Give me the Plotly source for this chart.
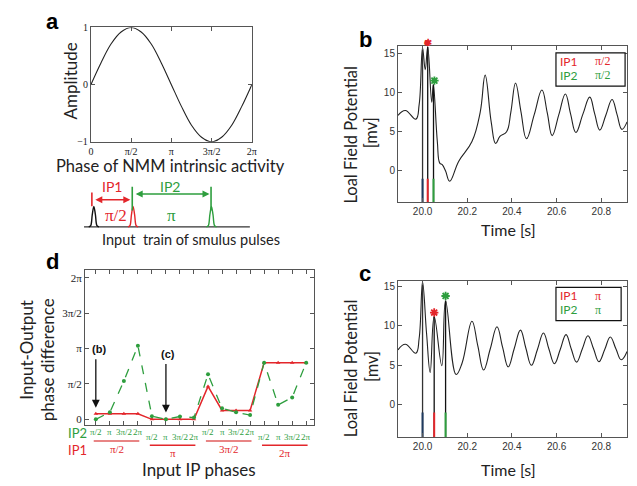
import numpy as np
import plotly.graph_objects as go

W, H = 637, 486
def px(X): return X / W
def py(Y): return 1 - Y / H

RED = '#e3262b'
GREEN = '#2e9e3e'
SALMON = '#e88585'
FRAME = '#555555'
TITLE_FONT = 'Lato'
SERIF = 'Liberation Serif'
SANS = 'Liberation Sans'

# ---------------- Panel a data ----------------
sine_phase_eighths = [0, 1, 2, 3, 4, 5, 6, 7, 8, 9, 10, 11, 12, 13, 14, 15, 16]   # units of pi/8
sine_amplitude = [0, 0.38, 0.71, 0.92, 1, 0.92, 0.71, 0.38, 0, -0.38, -0.71, -0.92, -1, -0.92, -0.71, -0.38, 0]
phase_tick_vals = [0, np.pi / 2, np.pi, 3 * np.pi / 2, 2 * np.pi]
phase_tick_text = ['0', 'π/2', 'π', '3π/2', '2π']

# pulse train (units of pi/2)
pulse_positions = [0, 1, 3]
pulse_colors = ['#111111', RED, GREEN]
pulse_dx = [-0.13, -0.08, -0.04, 0, 0.04, 0.08, 0.13]
pulse_dy = [0, 0.06, 0.6, 1, 0.6, 0.06, 0]

# ---------------- Panel b data ----------------
t_b = [19.89, 19.923, 19.97, 19.985, 20.0, 20.012, 20.023, 20.041, 20.048, 20.066, 20.077,
       20.088, 20.103, 20.121, 20.162, 20.221, 20.258, 20.28, 20.307, 20.327, 20.346, 20.376,
       20.395, 20.416, 20.44, 20.465, 20.5, 20.534, 20.558, 20.58, 20.61, 20.639, 20.662, 20.686,
       20.717, 20.748, 20.77, 20.793, 20.82, 20.848, 20.87, 20.892, 20.915]
lfp_b = [7.08, 7.7, 6.6, 8.5, 15.6, 12.9, 15.8, 8.75, 11.0, 3.75, 1.0,
         0.8, 0.0, -1.3, 1.25, 3.75, 7.5, 12.2, 6.25, 3.5, 4.4, 5.0,
         7.5, 11.2, 7.6, 4.1, 7.2, 10.3, 7.4, 4.5, 7.2, 9.8, 7.3, 4.9,
         7.2, 9.4, 7.3, 5.2, 7.1, 9.1, 7.2, 5.3, 6.25]
pulses_b_t = [20.0, 20.023, 20.049]
pulses_b_peak = [15.6, 15.8, 11.0]
stars_b = [(20.023, 16.4, RED), (20.053, 11.5, GREEN)]

# ---------------- Panel c data ----------------
t_c = [19.89, 19.923, 19.97, 19.985, 20.0, 20.018, 20.034, 20.052, 20.086, 20.103, 20.15,
       20.177, 20.221, 20.247, 20.273, 20.303, 20.333, 20.358, 20.383, 20.41, 20.438, 20.462,
       20.487, 20.514, 20.541, 20.565, 20.59, 20.616, 20.642, 20.665, 20.689, 20.715,
       20.74, 20.765, 20.789, 20.815, 20.84, 20.865, 20.889, 20.915]
lfp_c = [6.96, 7.67, 6.54, 8.5, 15.5, 9.0, 4.1, 11.2, 4.96, 13.2, 3.83,
         5.3, 10.6, 7.5, 4.4, 7.1, 9.9, 7.3, 4.8, 7.1, 9.46, 7.2,
         5.0, 7.0, 9.1, 7.1, 5.2, 7.0, 8.9, 7.1, 5.4, 7.1,
         8.75, 7.1, 5.46, 7.0, 8.6, 7.1, 5.7, 6.75]
pulses_c_t = [20.0, 20.052, 20.103]
pulses_c_peak = [15.5, 11.2, 13.2]
stars_c = [(20.052, 11.7, RED), (20.103, 13.8, GREEN)]
stub_colors = ['#1f3a5f', RED, GREEN]

time_ticks = [20.0, 20.2, 20.4, 20.6, 20.8]
lfp_ticks = [0, 5, 10, 15]

# ---------------- Panel d data (units of pi/2) ----------------
d_index = list(range(16))
ip1_diff = [0.16, 0.16, 0.16, 0.16, 0, 0, 0, 0, 0.93, 0.25, 0.25, 0.25, 1.6, 1.6, 1.6, 1.6]
ip2_diff = [0, 0.2, 1.08, 2.08, 0.09, 0, 0.08, 0.05, 1.27, 0.31, 0.2, 0.12, 1.6, 0.41, 0.62, 1.6]
ip2_labels = ['π/2', 'π', '3π/2', '2π']
ip1_labels = ['π/2', 'π', '3π/2', '2π']
diff_tick_vals = [0, 1, 2, 3, 4]
diff_tick_text = ['0', 'π/2', 'π', '3π/2', '2π']

fig = go.Figure()
ann = []

# Panel a sine
fig.add_trace(go.Scatter(x=[q * np.pi / 8 for q in sine_phase_eighths], y=sine_amplitude,
                         mode='lines', line=dict(color='#222', width=1.1, shape='spline'),
                         xaxis='x', yaxis='y'))
# pulse train
fig.add_trace(go.Scatter(x=[-0.25, 3.98], y=[0, 0], mode='lines',
                         line=dict(color='#333', width=1.1), xaxis='x5', yaxis='y5'))
for p, c in zip(pulse_positions, pulse_colors):
    fig.add_trace(go.Scatter(x=[p + d for d in pulse_dx], y=pulse_dy, mode='lines',
                             line=dict(color=c, width=1.4, shape='spline'), xaxis='x5', yaxis='y5'))
fig.add_trace(go.Scatter(x=[-0.05, -0.05], y=[1.0, 1.67], mode='lines', line=dict(color=RED, width=1.6),
                         xaxis='x5', yaxis='y5'))
fig.add_trace(go.Scatter(x=[0.98, 0.98], y=[0.8, 1.95], mode='lines', line=dict(color=GREEN, width=1.6),
                         xaxis='x5', yaxis='y5'))
fig.add_trace(go.Scatter(x=[2.99, 2.99], y=[0.8, 1.95], mode='lines', line=dict(color=GREEN, width=1.6),
                         xaxis='x5', yaxis='y5'))

# Panel b / c
def lfp_panel(xa, ya, t, v, pt, pk, stars, ymin, ymax, blob):
    fig.add_trace(go.Scatter(x=t, y=v, mode='lines', line=dict(color='#222', width=1.1, shape='spline', smoothing=1.2),
                             xaxis=xa, yaxis=ya))
    for i, (tt, pp) in enumerate(zip(pt, pk)):
        fig.add_trace(go.Scatter(x=[tt, tt], y=[ymin, pp], mode='lines',
                                 line=dict(color='#333' if i == 0 else '#111', width=1.3), xaxis=xa, yaxis=ya))
        fig.add_trace(go.Scatter(x=[tt, tt], y=[ymin, -1], mode='lines',
                                 line=dict(color=stub_colors[i], width=2), xaxis=xa, yaxis=ya))
    for (st, sv, sc) in stars:
        if sv > ymax:
            ydom = (sv - ymin) / (ymax - ymin)
            for glyph, size in (('●', 8), ('✱', 10)):
                ann.append(dict(x=st, y=ydom, xref=xa, yref=ya + ' domain', text=glyph, showarrow=False,
                                xanchor='center', yanchor='middle',
                                font=dict(family='DejaVu Sans', size=size, color=sc)))
            continue
        fig.add_trace(go.Scatter(x=[st], y=[sv], mode='markers', cliponaxis=False,
                                 marker=dict(symbol='asterisk-open', size=7, color=sc, line=dict(color=sc, width=1.8)),
                                 xaxis=xa, yaxis=ya))
        if blob:
            fig.add_trace(go.Scatter(x=[st], y=[sv], mode='markers', cliponaxis=False,
                                     marker=dict(symbol='circle', size=5, color=sc),
                                     xaxis=xa, yaxis=ya))

lfp_panel('x2', 'y2', t_b, lfp_b, pulses_b_t, pulses_b_peak, stars_b, -4, 15.9, True)
lfp_panel('x3', 'y3', t_c, lfp_c, pulses_c_t, pulses_c_peak, stars_c, -4.1, 15.75, False)

# Panel d
fig.add_trace(go.Scatter(x=d_index, y=ip1_diff, mode='lines+markers',
                         line=dict(color=RED, width=1.5), marker=dict(color=RED, size=4, symbol='triangle-up'),
                         xaxis='x4', yaxis='y4'))
fig.add_trace(go.Scatter(x=d_index, y=ip2_diff, mode='lines+markers',
                         line=dict(color=GREEN, width=1.3, dash='dash'), marker=dict(color=GREEN, size=4),
                         xaxis='x4', yaxis='y4'))

axis_common = dict(showline=True, linecolor=FRAME, linewidth=1, mirror='ticks', ticks='inside',
                   ticklen=4, tickcolor=FRAME, showgrid=False, zeroline=False)

fig.update_layout(
    width=W, height=H, margin=dict(l=0, r=0, t=0, b=0),
    paper_bgcolor='white', plot_bgcolor='white', showlegend=False,
    xaxis=dict(domain=[px(89), px(252)], range=[0, 2 * np.pi], anchor='y', tickvals=phase_tick_vals,
               ticktext=phase_tick_text, tickfont=dict(family=SERIF, size=10, color='#222'), **axis_common),
    yaxis=dict(domain=[py(140), py(23)], range=[-1, 1], anchor='x', tickvals=[-1, 0, 1],
               tickfont=dict(family=SERIF, size=10, color='#222'), **axis_common),
    xaxis2=dict(domain=[px(400), px(632)], range=[19.89, 20.915], anchor='y2', tickvals=time_ticks,
                tickformat='.1f', tickfont=dict(family=SANS, size=10, color='#333'), **axis_common),
    yaxis2=dict(domain=[py(202), py(42)], range=[-4, 15.9], anchor='x2', tickvals=lfp_ticks,
                tickfont=dict(family=SANS, size=10, color='#333'), **axis_common),
    xaxis3=dict(domain=[px(400), px(632)], range=[19.89, 20.915], anchor='y3', tickvals=time_ticks,
                tickformat='.1f', tickfont=dict(family=SANS, size=10, color='#333'), **axis_common),
    yaxis3=dict(domain=[py(442), py(282)], range=[-4.1, 15.75], anchor='x3', tickvals=lfp_ticks,
                tickfont=dict(family=SANS, size=10, color='#333'), **axis_common),
    xaxis4=dict(domain=[px(83), px(315)], range=[-0.775, 15.56], anchor='y4', tickvals=d_index,
                showticklabels=False, **axis_common),
    yaxis4=dict(domain=[py(430), py(271)], range=[-0.167, 4.22], anchor='x4', tickvals=diff_tick_vals,
                ticktext=diff_tick_text, tickfont=dict(family=SERIF, size=11, color='#222'), **axis_common),
    xaxis5=dict(domain=[px(80), px(255)], range=[-0.302, 4.106], anchor='y5', visible=False),
    yaxis5=dict(domain=[py(232), py(180)], range=[-0.238, 2.238], anchor='x5', visible=False),
)

def text(X, Y, s, size=15, color='#222', family=TITLE_FONT, angle=0, bold=False):
    ann.append(dict(x=px(X), y=py(Y), xref='paper', yref='paper', text=('<b>%s</b>' % s) if bold else s,
                    showarrow=False, xanchor='center', yanchor='middle', textangle=angle,
                    font=dict(family=family, size=size, color=color)))

# panel letters
text(50, 17, 'a', size=22, color='#000', family='Liberation Sans', bold=True)
text(367, 35, 'b', size=22, color='#000', family='Liberation Sans', bold=True)
text(367, 275, 'c', size=22, color='#000', family='Liberation Sans', bold=True)
text(50, 262, 'd', size=22, color='#000', family='Liberation Sans', bold=True)

# panel a texts
text(68, 78, 'Amplitude', size=17, angle=-90)
text(170, 165, 'Phase of NMM intrinsic activity', size=16.5)
text(110, 185.5, 'IP1', size=14, color=RED)
text(169, 185.5, 'IP2', size=14, color=GREEN)
text(114, 215, 'π/2', size=17, color=RED, family=SERIF)
text(171, 215, 'π', size=17, color=GREEN, family=SERIF)
text(190, 240, 'Input  train of smulus pulses', size=14.5)
ann.append(dict(x=0.93, y=1.32, ax=0.0, ay=1.32, xref='x5', yref='y5', axref='x5', ayref='y5', text='',
                showarrow=True, arrowhead=2, arrowsize=1, arrowwidth=1.4, arrowcolor=RED, arrowside='end+start'))
ann.append(dict(x=2.95, y=1.6, ax=1.03, ay=1.6, xref='x5', yref='y5', axref='x5', ayref='y5', text='',
                showarrow=True, arrowhead=2, arrowsize=1, arrowwidth=1.4, arrowcolor=GREEN, arrowside='end+start'))

# panel b / c titles
for yc in (133, 372):
    text(352, yc, 'Loal Field Potential', size=16.5, angle=-90)
    text(373, yc - 2, '[mv]', size=16.5, angle=-90)
text(512, 230, 'Time [s]', size=16)
text(512, 475, 'Time [s]', size=16)

# legend boxes
shapes = []
for (x0, y0, x1, y1, lab1, lab2, lx) in [(560, 49, 630, 83, 'π/2', 'π/2', 607), (560, 289, 626, 323, 'π', 'π', 603)]:
    shapes.append(dict(type='rect', xref='paper', yref='paper', x0=px(x0), x1=px(x1), y0=py(y1), y1=py(y0),
                       line=dict(color='#111', width=1.2), fillcolor='white', layer='above'))
    text(573, y0 + 8.5, 'IP1', size=12, color=RED)
    text(573, y0 + 23, 'IP2', size=12, color=GREEN)
    text(lx, y0 + 8.5, lab1, size=12, color=RED, family=SERIF)
    text(lx, y0 + 23, lab2, size=12, color=GREEN, family=SERIF)

# panel d texts
text(23, 353, 'Input-Output', size=17, angle=-90)
text(45, 363, 'phase difference', size=17, angle=-90)
text(198, 475, 'Input IP phases', size=17)
text(75, 438, 'IP2', size=13, color=GREEN)
text(75, 455, 'IP1', size=13, color=RED)
for i in d_index:
    g, k = divmod(i, 4)
    ann.append(dict(x=i, y=py(437 if g % 2 == 0 else 442.5), xref='x4', yref='paper', text=ip2_labels[k],
                    showarrow=False, xanchor='center', yanchor='middle',
                    font=dict(family=SERIF, size=9, color=GREEN)))
for g in range(4):
    ly = 446 if g % 2 == 0 else 450.5
    shapes.append(dict(type='line', xref='x4', yref='paper', x0=4 * g - 0.15, x1=4 * g + 3.1, y0=py(ly), y1=py(ly),
                       line=dict(color=SALMON if g % 2 == 0 else RED, width=2 if g % 2 == 0 else 1.5)))
    ann.append(dict(x=4 * g + 1.5, y=py(454 if g % 2 == 0 else 458.5), xref='x4', yref='paper', text=ip1_labels[g],
                    showarrow=False, xanchor='center', yanchor='middle',
                    font=dict(family=SERIF, size=11, color=RED)))
ann.append(dict(x=px(94), y=py(412), xref='paper', yref='paper', ax=0, ay=-50, text='', showarrow=True,
                arrowhead=2, arrowsize=1.2, arrowwidth=1.3, arrowcolor='#111'))
ann.append(dict(x=px(165), y=py(417), xref='paper', yref='paper', ax=0, ay=-50, text='', showarrow=True,
                arrowhead=2, arrowsize=1.2, arrowwidth=1.3, arrowcolor='#111'))
text(97, 352, '(b)', size=11, color='#111', family='Liberation Sans', bold=True)
text(167, 357, '(c)', size=11, color='#111', family='Liberation Sans', bold=True)

fig.update_layout(annotations=ann, shapes=shapes)
fig.write_html('out.html')
